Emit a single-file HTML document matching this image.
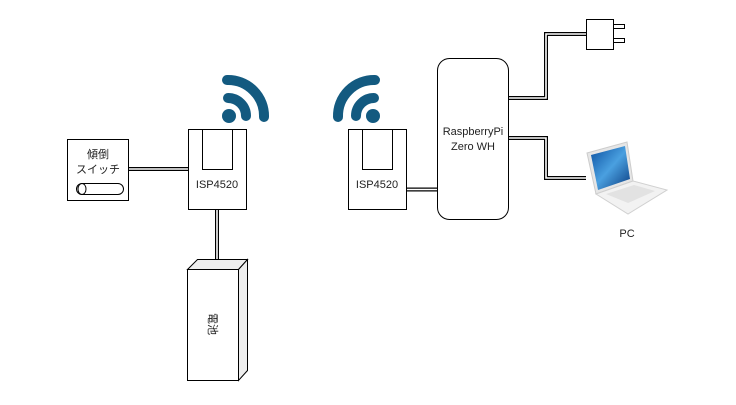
<!DOCTYPE html>
<html><head><style>
body{margin:0;background:#fff;width:736px;height:400px;overflow:hidden}
text{font-family:"Liberation Sans","Noto Sans CJK JP",sans-serif;font-size:11px;fill:#222}
</style></head><body>
<svg width="736" height="400" viewBox="0 0 736 400" xmlns="http://www.w3.org/2000/svg">
<g fill="none" stroke="#000">
<g stroke-width="4"><path d="M128 169H188M217 209V259M407 189.5H437M508 98H546V34H586M508 138H546V178H586"/></g>
<g stroke="#fff" stroke-width="1.6"><path d="M128 169H188M217 209V259M407 189.5H437M508 98H546V34H586M508 138H546V178H586"/></g>
</g>
<rect x="67.5" y="139.5" width="61" height="61" fill="#fff" stroke="#000"/>
<text x="98" y="158" text-anchor="middle">傾倒</text>
<text x="98" y="173" text-anchor="middle">スイッチ</text>
<rect x="76.5" y="183.5" width="47" height="11" rx="5.5" fill="#fff" stroke="#000"/>
<ellipse cx="82" cy="189" rx="4" ry="5.5" fill="#fff" stroke="#000"/>
<rect x="188.5" y="129.5" width="58" height="80" fill="#fff" stroke="#000"/>
<rect x="202.5" y="129.5" width="30" height="40" fill="#fff" stroke="#000"/>
<text x="217" y="188" text-anchor="middle">ISP4520</text>
<rect x="348.5" y="129.5" width="58" height="80" fill="#fff" stroke="#000"/>
<rect x="362.5" y="129.5" width="30" height="40" fill="#fff" stroke="#000"/>
<text x="377" y="188" text-anchor="middle">ISP4520</text>
<g fill="none" stroke="#135a80" stroke-width="10" stroke-linecap="round">
<circle cx="229" cy="116" r="7" fill="#135a80" stroke="none"/>
<path d="M228 98A18 18 0 0 1 246 116"/>
<path d="M227 80A36 36 0 0 1 264 117"/>
<circle cx="373" cy="116" r="7" fill="#135a80" stroke="none"/>
<path d="M374 98A18 18 0 0 0 356 116"/>
<path d="M375 80A36 36 0 0 0 338 117"/>
</g>
<path d="M187.5 269.5L197.5 259.5H247.5L238.5 269.5Z" fill="#eee" stroke="#000"/>
<path d="M238.5 269.5L247.5 259.5V370.5L238.5 380.5Z" fill="#eee" stroke="#000"/>
<rect x="187.5" y="269.5" width="51" height="111" fill="#fff" stroke="#000"/>
<text x="213" y="324" text-anchor="middle" transform="rotate(90 213 324)" dy="4">電池</text>
<rect x="437.5" y="58.5" width="71" height="161" rx="12" fill="#fff" stroke="#000"/>
<text x="473" y="135" text-anchor="middle">RaspberryPi</text>
<text x="473" y="150" text-anchor="middle">Zero WH</text>
<rect x="586.5" y="19.5" width="27" height="30" fill="#fff" stroke="#000"/>
<rect x="613.5" y="24.5" width="11" height="4" fill="#fff" stroke="#000"/>
<rect x="613.5" y="38.5" width="11" height="4" fill="#fff" stroke="#000"/>
<defs><linearGradient id="sc" x1="0" y1="0" x2="1" y2="1"><stop offset="0" stop-color="#0a4fa0"/><stop offset=".5" stop-color="#4aa0e0"/><stop offset="1" stop-color="#0a3c80"/></linearGradient></defs>
<path d="M587 153L627 142L633 181L596 194Z" fill="#e6e6e6" stroke="#ccc"/>
<path d="M591 155L625 146L630 179L598 190Z" fill="url(#sc)"/>
<path d="M596 194L633 181L667 190L628 214Z" fill="#f2f2f2" stroke="#d0d0d0"/>
<path d="M606 194L634 185L655 191L628 203Z" fill="#e2e2e2"/>
<text x="627" y="237" text-anchor="middle">PC</text>
</svg>
</body></html>
